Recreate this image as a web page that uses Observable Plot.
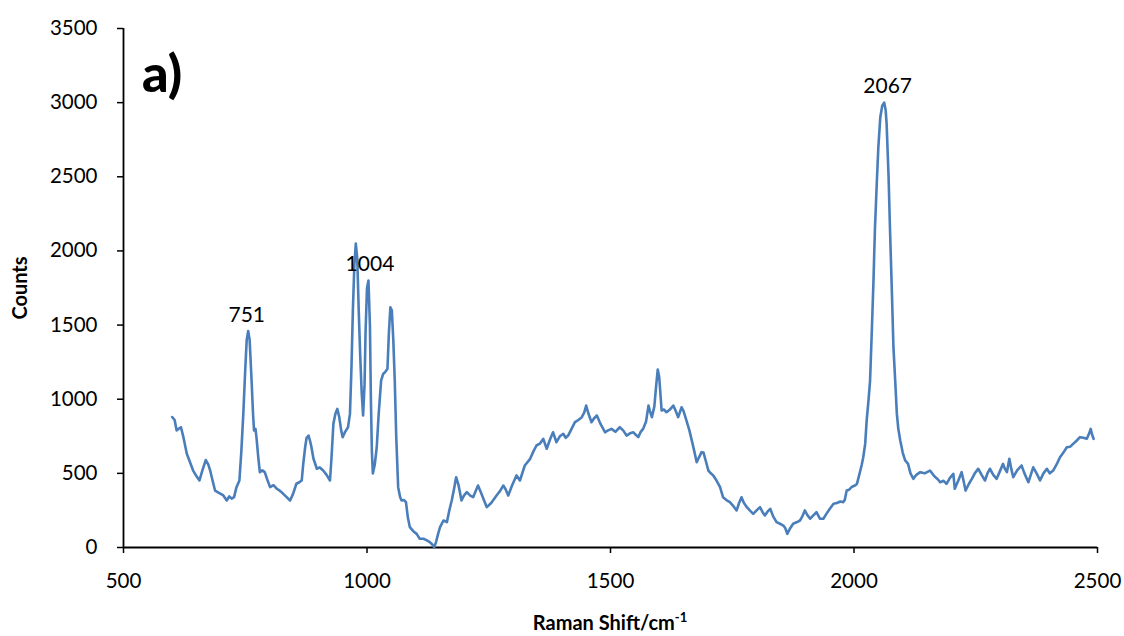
<!DOCTYPE html>
<html>
<head>
<meta charset="utf-8">
<script src="https://cdn.jsdelivr.net/npm/d3@7"></script>
<script src="https://cdn.jsdelivr.net/npm/@observablehq/plot@0.6"></script>
<style>
  html, body { margin: 0; padding: 0; background: #fff; }
  #chart { width: 1124px; height: 636px; }
</style>
</head>
<body>
<div id="chart"></div>
<script>
// Raman spectrum
const shift = [600,605,609,613,618,623,630,636,643,650,656,662,669,674,678,683,688,695,705,712,717,722,727,732,738,742,746,750,753,756,759,763,766,768,771,773,777,780,785,790,795,801,808,815,822,828,835,842,848,855,861,866,869,873,876,880,883,886,890,897,903,910,917,924,927,931,935,939,943,947,950,955,961,965,968,971,974,977,980,983,986,989,992,995,997,1000,1003,1006,1008,1010,1012,1016,1020,1024,1029,1033,1037,1042,1045,1048,1051,1054,1057,1060,1064,1068,1071,1076,1080,1084,1088,1095,1102,1108,1116,1122,1129,1134,1138,1142,1146,1150,1157,1164,1169,1174,1179,1183,1188,1194,1199,1205,1212,1218,1223,1228,1235,1240,1246,1255,1266,1273,1280,1285,1290,1298,1307,1314,1324,1335,1342,1348,1355,1362,1369,1376,1382,1389,1396,1403,1408,1413,1420,1427,1434,1441,1446,1450,1455,1461,1466,1472,1480,1489,1495,1502,1510,1519,1526,1533,1540,1547,1552,1557,1562,1567,1573,1578,1581,1585,1590,1594,1597,1600,1605,1610,1615,1622,1629,1634,1639,1646,1650,1656,1662,1667,1672,1677,1682,1687,1691,1696,1701,1706,1711,1718,1725,1731,1738,1745,1752,1759,1764,1769,1774,1780,1786,1793,1800,1807,1812,1817,1822,1828,1834,1841,1848,1855,1859,1863,1869,1875,1882,1889,1894,1899,1904,1910,1916,1923,1930,1937,1944,1950,1958,1965,1972,1978,1981,1985,1990,1996,2002,2006,2010,2013,2016,2019,2023,2026,2030,2033,2037,2040,2043,2047,2050,2054,2058,2062,2065,2067,2071,2074,2078,2081,2085,2088,2091,2095,2100,2105,2111,2116,2122,2128,2136,2145,2156,2165,2172,2177,2184,2190,2197,2204,2207,2214,2221,2225,2229,2236,2242,2248,2255,2262,2269,2274,2279,2286,2293,2299,2306,2310,2314,2319,2323,2327,2335,2344,2350,2358,2363,2368,2375,2382,2389,2396,2402,2409,2416,2423,2430,2437,2444,2450,2457,2464,2471,2478,2483,2486,2489,2492];
const counts = [880,860,790,800,811,744,632,580,519,480,452,520,590,560,519,450,384,370,351,317,345,330,340,407,452,650,901,1200,1400,1460,1400,1126,900,789,800,744,600,508,520,508,460,407,420,396,380,362,340,317,360,430,440,452,560,676,740,755,720,676,600,531,540,519,490,452,600,834,900,935,880,790,744,780,811,901,1200,1600,1900,2050,1950,1600,1300,1050,890,1100,1450,1750,1800,1500,1000,650,500,560,676,900,1126,1170,1182,1205,1450,1620,1600,1400,1126,750,407,340,317,320,306,200,137,110,92,60,59,50,36,20,2,40,92,137,182,171,250,317,400,474,420,317,350,373,350,339,380,418,362,320,272,300,351,380,418,390,351,420,486,452,553,598,650,688,700,733,666,730,777,710,750,767,740,755,800,845,860,879,910,957,900,845,870,890,830,777,790,800,780,811,790,755,770,777,760,744,780,800,850,957,920,879,950,1100,1200,1150,924,930,912,930,957,920,879,946,920,856,790,721,650,575,610,643,640,580,519,500,486,450,407,339,320,306,280,250,300,339,300,272,250,227,250,272,240,216,240,261,210,171,160,148,130,92,130,160,170,182,210,250,220,194,215,238,194,194,230,260,295,300,310,306,320,384,390,410,418,429,480,519,560,609,700,856,1000,1126,1500,1800,2150,2475,2700,2902,2980,3000,2950,2857,2500,2138,1700,1351,1100,901,800,721,640,587,564,500,463,490,508,500,519,480,460,440,450,429,470,497,396,450,508,450,384,430,463,500,531,490,452,500,531,490,463,510,564,530,508,598,530,474,520,553,500,440,490,541,500,452,500,531,500,519,560,609,640,676,680,699,720,744,740,733,770,800,760,733];

const xTicks = [500, 1000, 1500, 2000, 2500];
const yTicks = [0, 500, 1000, 1500, 2000, 2500, 3000, 3500];

const peakLabels = ["751", "1004", "2067"];
const peakShift = [751, 1004, 2067];
const peakCounts = [1460, 1800, 3000];

const spectrum = shift.map((s, i) => ({shift: s, counts: counts[i]}));
const peaks = peakLabels.map((t, i) => ({label: t, shift: peakShift[i], counts: peakCounts[i]}));

const FONT = "Lato, 'Open Sans', sans-serif";

const chart = Plot.plot({
  width: 1124,
  height: 636,
  marginLeft: 123,
  marginRight: 27,
  marginTop: 28,
  marginBottom: 89,
  style: {fontFamily: FONT, fontSize: "20px", color: "#000", background: "#fff"},
  x: {domain: [500, 2500]},
  y: {domain: [0, 3500]},
  marks: [
    Plot.axisX({ticks: xTicks, tickFormat: d => String(d), tickSize: 6, tickPadding: 20, label: null, fontSize: 20.5, stroke: "#000", strokeWidth: 1.5}),
    Plot.axisY({ticks: yTicks, tickFormat: d => String(d), tickSize: 6, tickPadding: 20, label: null, fontSize: 20.5, stroke: "#000", strokeWidth: 1.5}),
    Plot.ruleY([0], {stroke: "#000", strokeWidth: 1.8}),
    Plot.ruleX([500], {stroke: "#000", strokeWidth: 1.8}),
    Plot.line(spectrum, {x: "shift", y: "counts", stroke: "#4A7EBB", strokeWidth: 2.6, strokeLinejoin: "round"}),
    Plot.text(peaks, {x: "shift", y: "counts", text: "label", dy: -16, dx: 1, fontSize: 21, fill: "#000"})
  ]
});

document.getElementById("chart").appendChild(chart);

const svg = d3.select(chart);
// Panel tag
svg.append("text")
  .attr("x", 142).attr("y", 92)
  .attr("text-anchor", "start")
  .attr("font-family", FONT).attr("font-size", 52).attr("font-weight", 900)
  .attr("fill", "#000")
  .text("a)");
// Y axis title
svg.append("text")
  .attr("transform", "translate(27,288) rotate(-90)")
  .attr("text-anchor", "middle")
  .attr("font-family", FONT).attr("font-size", 20).attr("font-weight", "bold")
  .attr("fill", "#000")
  .text("Counts");
// X axis title with superscript
const xt = svg.append("text")
  .attr("x", 610).attr("y", 630)
  .attr("text-anchor", "middle")
  .attr("font-family", FONT).attr("font-size", 20).attr("font-weight", "bold")
  .attr("fill", "#000");
xt.append("tspan").text("Raman Shift/cm");
xt.append("tspan").attr("font-size", 13).attr("dy", -8).text("-1");
</script>
</body>
</html>
